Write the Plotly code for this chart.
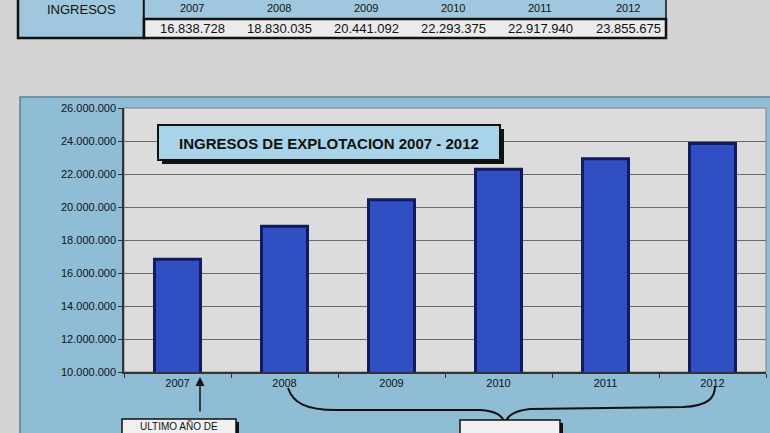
import plotly.graph_objects as go

years = ["2007", "2008", "2009", "2010", "2011", "2012"]
ingresos = [16838728, 18830035, 20441092, 22293375, 22917940, 23855675]
y_ticks = [10000000, 12000000, 14000000, 16000000, 18000000, 20000000, 22000000, 24000000, 26000000]
title_text = "INGRESOS DE EXPLOTACION 2007 - 2012"
table_label = "INGRESOS"
note_left = "ULTIMO AÑO DE"

W, H = 770, 433
L, R, T, B = 124, 4, 108, 61
PW, PH = W - L - R, H - T - B
FONT = "Liberation Sans"


def fmt(v):
    return f"{v:,}".replace(",", ".")


def px(x):
    return (x - L) / PW


def py(y):
    return (H - B - y) / PH


fig = go.Figure()
fig.add_trace(go.Bar(
    x=years, y=ingresos, width=0.43,
    marker=dict(color="#2f4fc2", line=dict(color="#141a5e", width=3)),
    hoverinfo="skip"
))

shapes = []
annotations = []


def rect(x0, y0, x1, y1, fill, line_color=None, lw=0, layer="below"):
    shapes.append(dict(type="rect", xref="paper", yref="paper",
                       x0=px(x0), x1=px(x1), y0=py(y0), y1=py(y1),
                       fillcolor=fill, line=dict(color=line_color or fill, width=lw), layer=layer))


def text(x, y, s, size, bold=False):
    annotations.append(dict(x=px(x), y=py(y), xref="paper", yref="paper",
                            text=("<b>" + s + "</b>") if bold else s,
                            xanchor="center", yanchor="middle", showarrow=False,
                            font=dict(size=size, color="#111", family=FONT)))


# chart frame
rect(20, 97, 775, 440, "#8fbdd6", "#5f7f90", 1.5)
# plot area
rect(L, T, W - R, H - B, "#dcdcdc", "#808080", 1)

# table at top
rect(18, -5, 144, 38, "#9fc8de", "#111111", 2.5, layer="above")
rect(144, -5, 666, 19, "#9fc8de", "#111111", 1.5, layer="above")
rect(144, 19, 666, 38, "#ebebeb", "#111111", 2.5, layer="above")
text(81, 9, table_label, 13)
cell_x = [192, 279, 366, 453, 540, 628]
for cx, yr, v in zip(cell_x, years, ingresos):
    text(cx, 8, yr, 11)
    text(cx, 29, fmt(v), 13)

# title box with shadow
rect(162, 129, 504, 164, "#111111", layer="above")
rect(158, 125, 500, 160, "#a9d3e8", "#111111", 2, layer="above")
text(329, 143, title_text, 15, bold=True)

# arrow under 2007
annotations.append(dict(x=px(200), y=py(377), xref="paper", yref="paper",
                        ax=0, ay=36, axref="pixel", ayref="pixel", text="", showarrow=True, arrowhead=2,
                        arrowsize=1.2, arrowwidth=1.5, arrowcolor="#111"))
# left note box
rect(125, 422, 239, 445, "#111111", layer="above")
rect(122, 419, 236, 445, "#f0f0f0", "#111111", 1.5, layer="above")
text(179, 426, note_left, 10)

# brace 2008-2012
pts = [(288, 388), (293, 403), (306, 410), (336, 410), (480, 410), (497, 411), (503, 416), (505, 424),
       (507, 416), (513, 411), (530, 409), (683, 407), (708, 406), (715, 398), (715, 386)]


def P(p):
    return f"{px(p[0]):.5f},{py(p[1]):.5f}"


path = (f"M {P(pts[0])} C {P(pts[1])} {P(pts[2])} {P(pts[3])} L {P(pts[4])} "
        f"C {P(pts[5])} {P(pts[6])} {P(pts[7])} C {P(pts[8])} {P(pts[9])} {P(pts[10])} "
        f"L {P(pts[11])} C {P(pts[12])} {P(pts[13])} {P(pts[14])}")
shapes.append(dict(type="path", xref="paper", yref="paper", path=path,
                   line=dict(color="#111", width=2), layer="above"))
rect(463, 423, 563, 445, "#111111", layer="above")
rect(460, 420, 560, 445, "#f0f0f0", "#111111", 1.5, layer="above")

fig.update_layout(
    width=W, height=H,
    margin=dict(l=L, r=R, t=T, b=B, autoexpand=False),
    paper_bgcolor="#d5d3d3",
    plot_bgcolor="rgba(0,0,0,0)",
    showlegend=False,
    shapes=shapes,
    annotations=annotations,
    xaxis=dict(showgrid=False, showline=True, linecolor="#333", linewidth=1.5,
               ticks="outside", ticklen=4, tickcolor="#333", tickson="boundaries",
               tickfont=dict(size=11, color="#111", family=FONT)),
    yaxis=dict(range=[10000000, 26000000], tickvals=y_ticks, ticktext=[fmt(v) for v in y_ticks],
               showgrid=True, gridcolor="#6a6a6a", gridwidth=1, zeroline=False,
               showline=True, linecolor="#333", linewidth=1.5, ticks="outside", ticklen=4,
               tickcolor="#333", tickfont=dict(size=11, color="#111", family=FONT)),
)

fig.write_html("out.html", config={"displayModeBar": False},
               post_script="document.body.style.margin='0';")
